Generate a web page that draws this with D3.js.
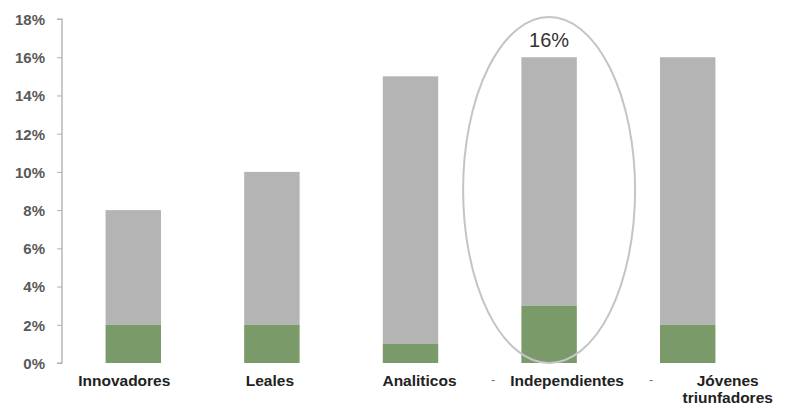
<!DOCTYPE html>
<html>
<head>
<meta charset="utf-8">
<script src="https://cdn.jsdelivr.net/npm/d3@7"></script>
<style>
  html, body { margin: 0; padding: 0; background: #fff; }
  svg { display: block; }
</style>
</head>
<body>
<svg id="chart" width="795" height="406"></svg>
<script>
// Segment shares per profile (percent of total)
const categories = ["Innovadores", "Leales", "Analiticos", "Independientes", "Jóvenes triunfadores"];
const totalValues = [8, 10, 15, 16, 16];   // full bar height
const greenValues = [2, 2, 1, 3, 2];       // lower (green) segment
const yTicks = [0, 2, 4, 6, 8, 10, 12, 14, 16, 18];
const highlightIndex = 3;
const highlightLabel = "16%";

// Horizontal nudge of each category label from its bar centre (px)
const labelShift = [-9, -2, 9, 18, 40];

const svg = d3.select("#chart");
const axisX = 62, plotBottom = 363, plotTop = 19;
const font = "'Liberation Sans', Arial, sans-serif";

const x = d3.scaleBand()
  .domain(categories)
  .range([64, 757])
  .paddingInner(0.6)
  .paddingOuter(0.3);

const y = d3.scaleLinear().domain([0, 18]).range([plotBottom, plotTop]);

// Y axis
const yAxis = d3.axisLeft(y)
  .tickValues(yTicks)
  .tickSize(5)
  .tickFormat(d => d + "%");

const gy = svg.append("g")
  .attr("transform", `translate(${axisX},0)`)
  .call(yAxis);
gy.select(".domain").attr("stroke", "#a6a6a6").attr("stroke-width", 1.2)
  .attr("d", `M-5,${y(18)}H0V${y(0)}H-5`);
gy.selectAll(".tick line").attr("stroke", "#b0b0b0");
gy.selectAll(".tick text")
  .attr("x", -17)
  .attr("dy", "0.36em")
  .attr("fill", "#595959")
  .style("font-family", font)
  .style("font-size", "15px")
  .style("font-weight", "bold");

// Bars: grey total with green base segment
const bars = svg.append("g");
categories.forEach((c, i) => {
  bars.append("rect")
    .attr("x", x(c))
    .attr("y", y(totalValues[i]))
    .attr("width", x.bandwidth())
    .attr("height", y(greenValues[i]) - y(totalValues[i]))
    .attr("fill", "#b4b4b4");
  bars.append("rect")
    .attr("x", x(c))
    .attr("y", y(greenValues[i]))
    .attr("width", x.bandwidth())
    .attr("height", y(0) - y(greenValues[i]))
    .attr("fill", "#7b9a6a");
});

// Highlight ellipse around one profile
const hc = categories[highlightIndex];
const cx = x(hc) + x.bandwidth() / 2;
svg.append("ellipse")
  .attr("cx", cx)
  .attr("cy", (y(0) + y(18.1)) / 2)
  .attr("rx", 86)
  .attr("ry", (y(0) - y(18.1)) / 2)
  .attr("fill", "none")
  .attr("stroke", "#c4c4c4")
  .attr("stroke-width", 2);

svg.append("text")
  .attr("x", cx)
  .attr("y", y(totalValues[highlightIndex]) - 10)
  .attr("text-anchor", "middle")
  .attr("fill", "#333")
  .style("font-family", font)
  .style("font-size", "20px")
  .text(highlightLabel);

// Category labels (wrapped on spaces for the long one)
const labels = svg.append("g")
  .style("font-family", font)
  .style("font-size", "15.5px")
  .style("font-weight", "bold")
  .attr("fill", "#222");
categories.forEach((c, i) => {
  const lx = x(c) + x.bandwidth() / 2 + labelShift[i];
  const words = c.split(" ");
  const t = labels.append("text")
    .attr("x", lx)
    .attr("y", 386)
    .attr("text-anchor", "middle");
  if (words.length === 1) {
    t.text(c);
  } else {
    words.forEach((w, k) => {
      t.append("tspan")
        .attr("x", lx)
        .attr("dy", k === 0 ? 0 : 17)
        .text(w);
    });
  }
});

// Small separator dashes flanking the highlighted label
const hx = cx + labelShift[highlightIndex];
[-74, 84].forEach(off => {
  labels.append("text")
    .attr("x", hx + off)
    .attr("y", 384)
    .attr("text-anchor", "middle")
    .attr("fill", "#777")
    .style("font-weight", "normal")
    .style("font-size", "13px")
    .text("-");
});
</script>
</body>
</html>
